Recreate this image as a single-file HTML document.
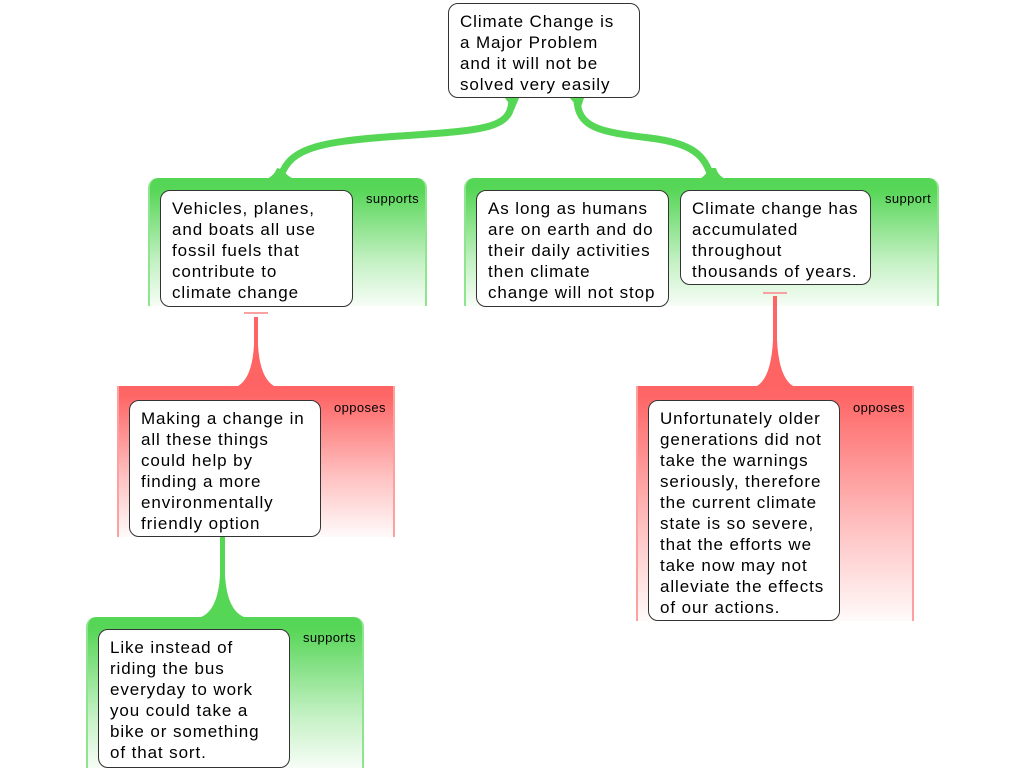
<!DOCTYPE html>
<html><head><meta charset="utf-8"><style>
body{margin:0;width:1024px;height:768px;background:#fff;position:relative;overflow:hidden;font-family:"Liberation Sans",sans-serif}
.g{position:absolute;box-sizing:border-box}
.gr{background:linear-gradient(to bottom,#55d655 0px,#57d657 12px,rgba(85,214,85,0.35) 65%,rgba(85,214,85,0.05) 100%);border-radius:10px 10px 0 0;border-left:2px solid #8fe48f;border-right:2px solid #8fe48f}
.rd{background:linear-gradient(to bottom,#fe6464 0px,#fe6666 10px,rgba(254,100,100,0.4) 60%,rgba(254,100,100,0.03) 100%);border-left:2px solid #fca0a0;border-right:2px solid #fca0a0}
.n{position:absolute;box-sizing:border-box;background:#fff;border:1px solid #333;border-radius:10px;font-size:17px;line-height:21px;padding:7px 6px 0 11px;color:#000;letter-spacing:0.9px;white-space:nowrap}
.l{position:absolute;font-size:13px;color:#000;letter-spacing:0.4px}
svg{position:absolute;left:0;top:0}
</style></head><body>
<svg width="1024" height="768">
<path d="M512,98 C512,128 490,130 400,136 C310,142 287,150 279,182" stroke="#55d655" stroke-width="7" fill="none"/>
<path d="M577,98 C577,128 600,132 650,138 C700,144 706,160 713,182" stroke="#55d655" stroke-width="7" fill="none"/>
<path d="M262,181 Q274,177 277,168 L284,170 Q286,177 300,181 Z" fill="#55d655"/>
<path d="M695,181 Q706,177 709,168 L716,168 Q718,177 730,181 Z" fill="#55d655"/>
<path d="M505,98 L519,98 L514,110 Z M570,98 L584,98 L580,110 Z" fill="#55d655"/>
</svg>
<div class="g gr" style="left:148px;top:178px;width:279px;height:128px"></div>
<div class="g gr" style="left:464px;top:178px;width:475px;height:128px"></div>
<div class="g rd" style="left:117px;top:386px;width:278px;height:151px"></div>
<div class="g rd" style="left:636px;top:386px;width:278px;height:235px"></div>
<div class="g gr" style="left:86px;top:617px;width:278px;height:151px"></div>
<svg width="1024" height="768">
<rect x="244" y="312" width="24" height="2" fill="#f9a0a0"/>
<path d="M254,317 L258,317 L258,345 Q260,380 276,387 L236,387 Q252,380 254,345 Z" fill="#fe6464"/>
<rect x="763" y="292" width="24" height="2" fill="#f9a0a0"/>
<path d="M773,296 L777,296 L777,340 Q779,380 795,387 L755,387 Q771,380 773,340 Z" fill="#fe6464"/>
<path d="M220,537 L225,537 L225,575 Q227,610 244,617 L201,617 Q218,610 220,575 Z" fill="#55d655"/>
</svg>
<div class="n" style="left:448px;top:3px;width:192px;height:95px">Climate Change is<br>a Major Problem<br>and it will not be<br>solved very easily</div>
<div class="n" style="left:160px;top:190px;width:193px;height:117px">Vehicles, planes,<br>and boats all use<br>fossil fuels that<br>contribute to<br>climate change</div>
<div class="n" style="left:476px;top:190px;width:193px;height:117px">As long as humans<br>are on earth and do<br>their daily activities<br>then climate<br>change will not stop</div>
<div class="n" style="left:680px;top:190px;width:191px;height:95px">Climate change has<br>accumulated<br>throughout<br>thousands of years.</div>
<div class="n" style="left:129px;top:400px;width:192px;height:137px">Making a change in<br>all these things<br>could help by<br>finding a more<br>environmentally<br>friendly option</div>
<div class="n" style="left:648px;top:400px;width:192px;height:221px">Unfortunately older<br>generations did not<br>take the warnings<br>seriously, therefore<br>the current climate<br>state is so severe,<br>that the efforts we<br>take now may not<br>alleviate the effects<br>of our actions.</div>
<div class="n" style="left:98px;top:629px;width:192px;height:139px">Like instead of<br>riding the bus<br>everyday to work<br>you could take a<br>bike or something<br>of that sort.</div>
<div class="l" style="left:366px;top:191px">supports</div>
<div class="l" style="left:885px;top:191px">support</div>
<div class="l" style="left:334px;top:400px">opposes</div>
<div class="l" style="left:853px;top:400px">opposes</div>
<div class="l" style="left:303px;top:630px">supports</div>
</body></html>
